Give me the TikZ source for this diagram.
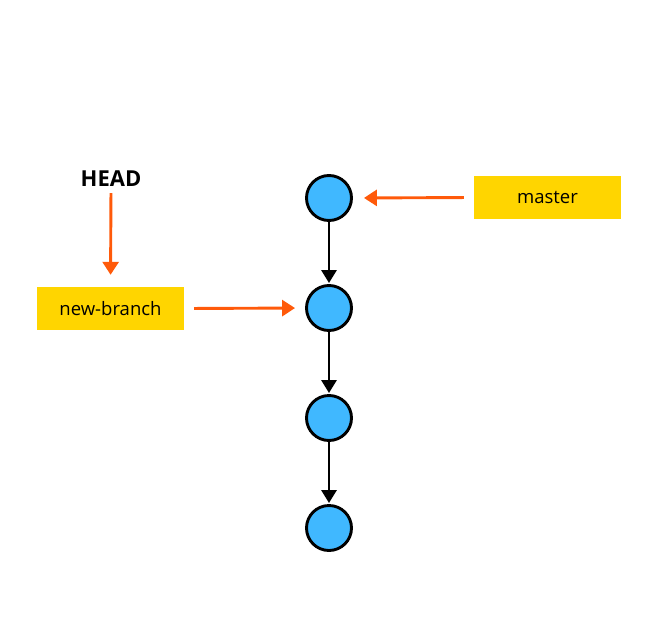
\documentclass[tikz,border=0pt]{standalone}
\usepackage{fontspec}
\setmainfont{Open Sans}
\usetikzlibrary{arrows.meta}
\definecolor{commitblue}{HTML}{40B8FF}
\definecolor{labelyellow}{HTML}{FFD500}
\definecolor{pointorange}{HTML}{FF5A0A}
\begin{document}
\begin{tikzpicture}[x=1pt,y=-1pt,
  commit/.style={circle,draw=black,line width=2.9pt,fill=commitblue,minimum size=45pt,inner sep=0pt},
  branchlabel/.style={rectangle,fill=labelyellow,minimum width=147pt,minimum height=43pt,font=\fontsize{18.5}{22}\selectfont},
  parentlink/.style={draw=black,line width=2.9pt,-{Triangle[length=13pt,width=15pt]}},
  refptr/.style={draw=pointorange,line width=2.9pt,-{Triangle[length=13pt,width=16pt]}}]
\useasboundingbox (0,0) rectangle (658,621);
\node[commit] (c1) at (329,198) {};
\node[commit] (c2) at (329,308) {};
\node[commit] (c3) at (329,418) {};
\node[commit] (c4) at (329,528) {};
\node[branchlabel] (master) at (547.5,197.5) {master};
\node[branchlabel] (nb) at (110.5,308.5) {new-branch};
\node[font=\bfseries\fontsize{22}{26}\selectfont,inner sep=0pt] (head) at (111,179) {HEAD};
\draw[parentlink,shorten >=1pt] (c1.south) -- (c2.north);
\draw[parentlink,shorten >=1pt] (c2.south) -- (c3.north);
\draw[parentlink,shorten >=1pt] (c3.south) -- (c4.north);
\draw[refptr,shorten <=10pt,shorten >=11pt] (master.west) -- (c1.east);
\draw[refptr,shorten <=10pt,shorten >=10pt] (nb.east) -- (c2.west);
\draw[refptr,shorten <=6pt,shorten >=12pt] (head.south) -- (nb.north);
\end{tikzpicture}
\end{document}
